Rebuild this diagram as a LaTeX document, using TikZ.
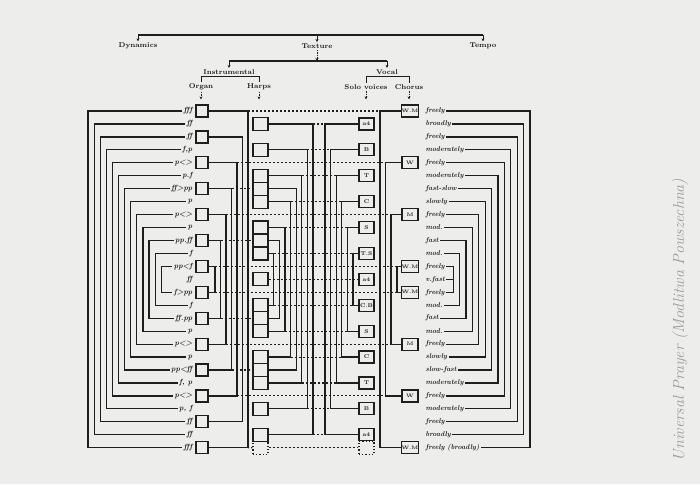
\documentclass[tikz,border=0pt]{standalone}
\usepackage{fontspec}
\usepackage{tikz}
\usetikzlibrary{arrows.meta,positioning,calc}
\definecolor{paper}{RGB}{237,237,235}
\definecolor{ink}{RGB}{30,30,30}
\definecolor{pencil}{RGB}{155,155,155}

\begin{document}
\begin{tikzpicture}[
  x=1pt,y=-1pt,
  line width=1.2pt,color=ink,
  dyn/.style={font=\fontsize{7.5}{8}\selectfont\bfseries\itshape,inner sep=1pt,anchor=east},
  tmp/.style={font=\fontsize{7}{8}\selectfont\bfseries\itshape,inner sep=1pt,anchor=west},
  head/.style={font=\fontsize{7}{8}\selectfont\bfseries,inner sep=1pt},
  obox/.style={draw,minimum width=12pt,minimum height=12pt,inner sep=0pt},
  hbox/.style={draw,minimum width=15pt,minimum height=12.95pt,inner sep=0pt},
  vbox/.style={draw,minimum width=15pt,minimum height=12pt,inner sep=0pt,
               font=\fontsize{5.5}{6}\selectfont\bfseries},
  cbox/.style={draw,minimum width=16pt,minimum height=12pt,inner sep=0pt,
               font=\fontsize{5}{5}\selectfont\bfseries},
  ghost/.style={draw,dotted,minimum width=15pt,minimum height=13pt,inner sep=0pt},
  sync/.style={dash pattern=on 2pt off 2pt,line width=1.1pt},
  arr/.style={-{Stealth[length=3pt,width=3pt]},line width=0.8pt}
]
\fill[paper] (0,0) rectangle (700,484);
\useasboundingbox (0,0) rectangle (700,484);

% top tree
\node[head] (dynamics) at (138,46) {Dynamics};
\node[head] (texture)  at (317,46) {Texture};
\node[head] (tempo)    at (483,46) {Tempo};
\coordinate (bar1l) at (138,35);
\coordinate (bar1r) at (483,35);
\draw (bar1l) -- (bar1r);
\draw[arr] (bar1l) -- (dynamics.north);
\draw[arr] (bar1r) -- (tempo.north);
\draw[arr] (bar1l -| texture.north) -- (texture.north);

\node[head] (instr) at (229,72) {Instrumental};
\node[head] (vocal) at (387,72) {Vocal};
\coordinate (bar2l) at (229,61);
\coordinate (bar2r) at (387,61);
\draw (bar2l) -- (bar2r);
\draw[arr,dash pattern=on 1.5pt off 1pt] (texture.south) -- (texture.south |- bar2l);
\draw[arr] (bar2l) -- (instr.north);
\draw[arr] (bar2r) -- (vocal.north);

\node[head] (organ)  at (201,87) {Organ};
\node[head] (harps)  at (259,87) {Harps};
\node[head] (solo)   at (366,87) {Solo voices};
\node[head] (chorus) at (409,87) {Chorus};
\draw[line width=0.9pt] (organ.north) |- (instr.south) -| (harps.north);
\draw[line width=0.9pt] (solo.north) |- (vocal.south) -| (chorus.north);

% dynamics column
\foreach \k/\t in {1/fff,2/ff,3/ff,4/{f,p},5/{p<>},6/{p.f},7/{ff>pp},8/p,9/{p<>},
    10/p,11/{pp.ff},12/f,13/{pp<f},14/ff,15/{f>pp},16/f,17/{ff.pp},18/p,19/{p<>},
    20/p,21/{pp<ff},22/{f, p},23/{p<>},24/{p, f},25/ff,26/ff,27/fff}{
  \pgfmathsetmacro\y{111+12.95*(\k-1)}
  \node[dyn] (dy\k) at (194,\y) {\t};
}
\foreach \k in {1,...,12}{
  \pgfmathtruncatemacro\j{28-\k}
  \pgfmathsetmacro\x{88+6.1*(\k-1)}
  \coordinate (lv\k) at (\x,0);
  \draw (dy\k.west) -- (dy\k.west -| lv\k) -- (dy\j.west -| lv\k) -- (dy\j.west);
}
\coordinate (lv13) at (161.2,0);
\draw (dy13.west) -- (dy13.west -| lv13) -- (dy15.west -| lv13) -- (dy15.west);

% organ
\foreach \k in {1,3,...,27}{
  \pgfmathsetmacro\y{111+12.95*(\k-1)}
  \node[obox] (o\k) at (202,\y) {};
}
\foreach \k in {1,3,...,13}{
  \pgfmathtruncatemacro\j{28-\k}
  \pgfmathsetmacro\x{248-2.75*(\k-1)}
  \coordinate (ov\k) at (\x,0);
  \coordinate (ov\j) at (\x,0);
  \draw (o\k.east) -- (o\k.east -| ov\k) -- (o\j.east -| ov\k) -- (o\j.east);
}

% harps
\foreach \k in {2,4,6,7,8,10,11,12,14,16,17,18,20,21,22,24,26}{
  \pgfmathsetmacro\y{111+12.95*(\k-1)}
  \node[hbox] (h\k) at (260.5,\y) {};
}
\node[ghost] (h27) at (260.5,447.7) {};
\foreach \k/\n in {2/0,4/1,6/2,7/3,8/4,10/5,11/6,12/7}{
  \pgfmathtruncatemacro\j{28-\k}
  \pgfmathsetmacro\x{313-5.6*\n}
  \coordinate (hv\k) at (\x,0);
  \draw (h\k.east) -- (h\k.east -| hv\k) -- (h\j.east -| hv\k) -- (h\j.east);
}

% solo voices
\foreach \k/\t in {2/a4,4/B,6/T,8/C,10/S,12/T.S,14/a4,16/C.B,18/S,20/C,22/T,24/B,26/a4}{
  \pgfmathsetmacro\y{111+12.95*(\k-1)}
  \node[vbox] (v\k) at (366.5,\y) {\t};
}
\node[ghost] (v27) at (366.5,447.7) {};
\foreach \k/\n in {2/0,4/1,6/2,8/3,10/4,12/5}{
  \pgfmathtruncatemacro\j{28-\k}
  \pgfmathsetmacro\x{325+5.6*\n}
  \coordinate (vv\k) at (\x,0);
  \draw (v\k.west) -- (v\k.west -| vv\k) -- (v\j.west -| vv\k) -- (v\j.west);
  \draw[sync] (h\k.east -| hv\k) -- (v\k.west -| vv\k);
  \draw[sync] (h\j.east -| hv\k) -- (v\j.west -| vv\k);
}
\draw[sync] (h14.east) -- (v14.west);

% chorus
\foreach \k/\t in {1/W.M,5/W,9/M,13/W.M,15/W.M,19/M,23/W,27/W.M}{
  \pgfmathsetmacro\y{111+12.95*(\k-1)}
  \node[cbox] (c\k) at (410,\y) {\t};
}
\foreach \k/\x in {1/380,5/385.5,9/391,13/397}{
  \pgfmathtruncatemacro\j{28-\k}
  \coordinate (cv\k) at (\x,0);
  \coordinate (cv\j) at (\x,0);
  \draw (c\k.west) -- (c\k.west -| cv\k) -- (c\j.west -| cv\k) -- (c\j.west);
}

% simultaneity lines
\foreach \k in {1,5,9,13,15,19,23}{
  \draw[sync] (o\k.east -| ov\k) -- (c\k.west -| cv\k);
}
\foreach \k in {7,11,17,21}{
  \draw[sync] (o\k.east -| ov\k) -- (h\k.west);
}
\draw[dotted] (o27.east -| ov27) -- (h27.west);
\draw[sync] (h27.east) -- (v27.west);

% tempo column
\foreach \k/\t in {1/freely,2/broadly,3/freely,4/moderately,5/freely,6/moderately,
    7/fast-slow,8/slowly,9/freely,10/mod.,11/fast,12/mod.,13/freely,14/v.fast,
    15/freely,16/mod.,17/fast,18/mod.,19/freely,20/slowly,21/slow-fast,
    22/moderately,23/freely,24/moderately,25/freely,26/broadly,27/freely (broadly)}{
  \pgfmathsetmacro\y{111+12.95*(\k-1)}
  \node[tmp] (tp\k) at (424,\y) {\t};
}
\foreach \k in {1,...,12}{
  \pgfmathtruncatemacro\j{28-\k}
  \pgfmathsetmacro\x{530-6.4*(\k-1)}
  \coordinate (rv\k) at (\x,0);
  \draw (tp\k.east) -- (tp\k.east -| rv\k) -- (tp\j.east -| rv\k) -- (tp\j.east);
}
\coordinate (rv13) at (453.2,0);
\draw (tp13.east) -- (tp13.east -| rv13) -- (tp15.east -| rv13) -- (tp15.east);
\draw (tp14.east) -- (tp14.east -| rv13);

% column arrows
\foreach \n in {organ,harps,solo,chorus}{
  \draw[arr,dash pattern=on 1.5pt off 1pt,shorten >=5pt] (\n.south) -- (\n.south |- o1.north);
}

% pencil note
\node[rotate=90,text=pencil,font=\fontsize{16}{18}\selectfont\itshape] (note)
  at (680,320) {Universal Prayer (Modlitwa Powszechna)};
\end{tikzpicture}
\end{document}
